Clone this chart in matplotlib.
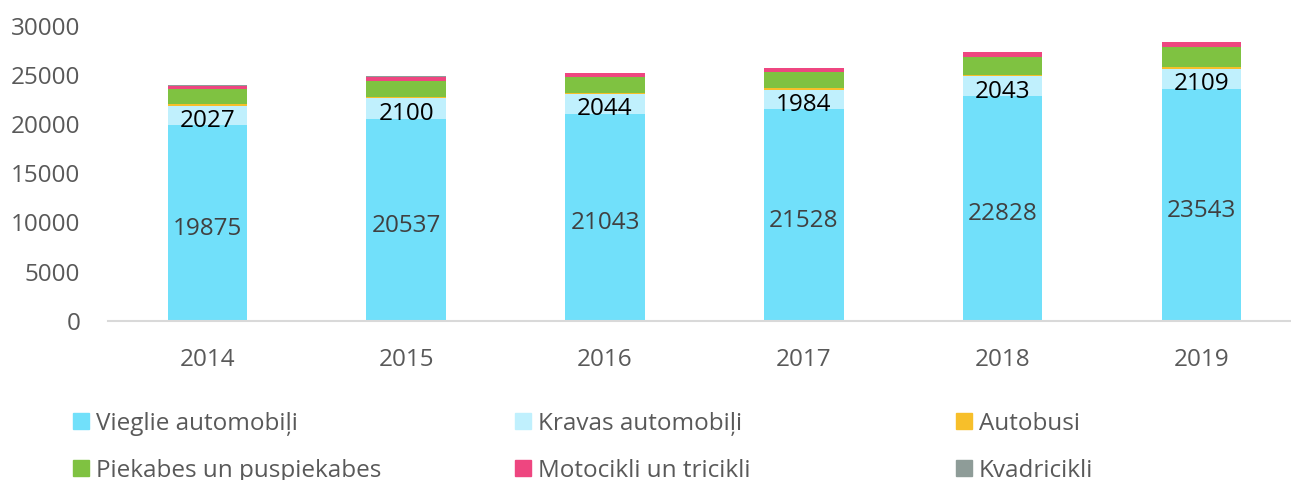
import matplotlib
matplotlib.use('Agg')
import matplotlib.pyplot as plt
from matplotlib.patches import Patch
import numpy as np

plt.rcParams['font.family'] = ['Open Sans', 'DejaVu Sans']

gadi = ['2014', '2015', '2016', '2017', '2018', '2019']

vieglie = [19875, 20537, 21043, 21528, 22828, 23543]
kravas = [2027, 2100, 2044, 1984, 2043, 2109]
autobusi = [120, 130, 130, 130, 140, 140]
piekabes = [1550, 1660, 1570, 1630, 1840, 2080]
motocikli = [330, 390, 400, 430, 470, 470]
kvadricikli = [50, 50, 50, 50, 60, 40]

nosaukumi = ['Vieglie automobiļi', 'Kravas automobiļi', 'Autobusi',
             'Piekabes un puspiekabes', 'Motocikli un tricikli', 'Kvadricikli']
krasas = ['#71e0fa', '#c0f0fd', '#f7bf2a', '#7fc241', '#ee4680', '#8e9c98']

serijas = [vieglie, kravas, autobusi, piekabes, motocikli, kvadricikli]

fig = plt.figure(figsize=(12.91, 4.8), dpi=100)
ax = fig.add_axes([108 / 1291, 1 - 320.7 / 480, 1 - 108 / 1291, (320.7 - 26) / 480])

x = np.arange(len(gadi))
apaksa = np.zeros(len(gadi))
for vert, kr in zip(serijas, krasas):
    ax.bar(x, vert, 0.4, bottom=apaksa, color=kr, edgecolor='none')
    apaksa = apaksa + np.array(vert)

# skaitli uz stabiem (baseline nedaudz zem centra)
for i in range(len(gadi)):
    ax.text(x[i], vieglie[i] / 2 - 1200, str(vieglie[i]), ha='center', va='baseline',
            fontsize=17.5, color='#404040')
    ax.text(x[i], vieglie[i] + kravas[i] / 2 - 1130, str(kravas[i]), ha='center',
            va='baseline', fontsize=17.5, color='black')

ax.set_xlim(-0.5, 5.45)
ax.set_ylim(0, 30000)
ax.set_yticks(range(0, 30001, 5000))
ax.set_xticks(x)
ax.set_xticklabels(gadi)
ax.tick_params(axis='both', length=0, labelsize=17.5, colors='#595959')
ax.tick_params(axis='x', pad=20)
ax.tick_params(axis='y', pad=20)
for s in ['top', 'right', 'left']:
    ax.spines[s].set_visible(False)
ax.spines['bottom'].set_color('#d9d9d9')
ax.spines['bottom'].set_linewidth(1.5)

# legenda trijas kolonnas
kol_x = [63, 505, 946]
for k in range(3):
    h = [Patch(color=krasas[k]), Patch(color=krasas[k + 3])]
    l = [nosaukumi[k], nosaukumi[k + 3]]
    leg = fig.legend(h, l, loc='upper left', bbox_to_anchor=(kol_x[k] / 1291, 1 - 402 / 480),
                     frameon=False, fontsize=17.5, handlelength=0.66, handleheight=0.66,
                     handletextpad=0.29, labelspacing=0.94, borderaxespad=0)
    for t in leg.get_texts():
        t.set_color('#595959')

fig.savefig('out.png', dpi=100)
